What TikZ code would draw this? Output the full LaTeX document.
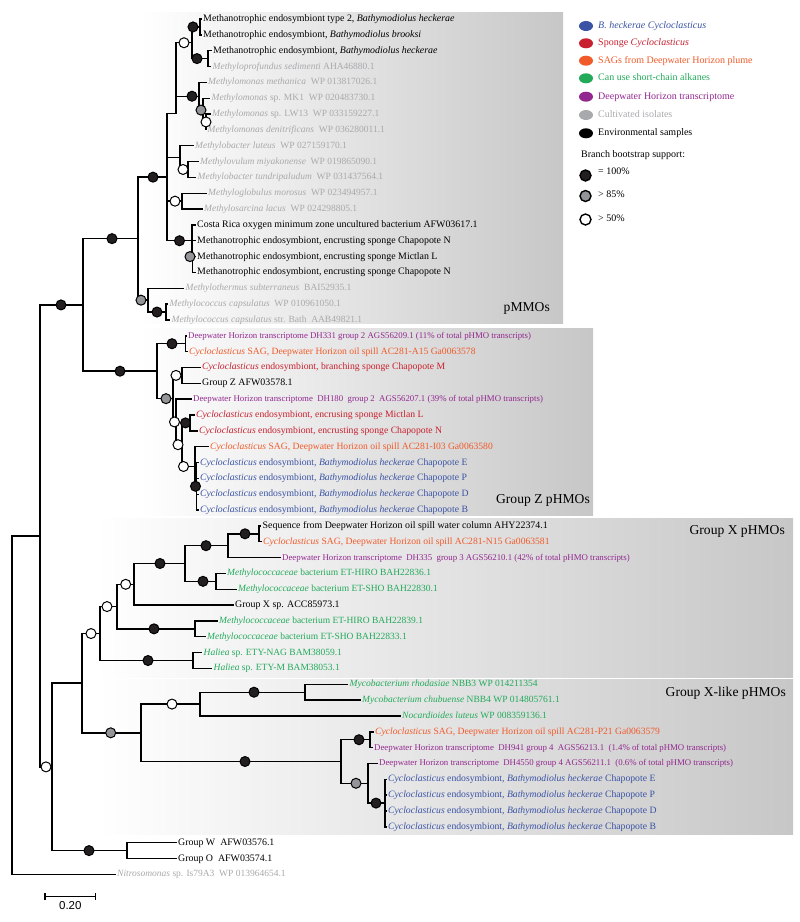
\documentclass[tikz,border=0pt]{standalone}
\usepackage{fontspec}
\setmainfont{Liberation Serif}
\newfontfamily\sbfont{Liberation Sans}
\usetikzlibrary{shapes.geometric}
\definecolor{cblue}{RGB}{58,83,164}
\definecolor{cred}{RGB}{200,32,46}
\definecolor{corange}{RGB}{241,90,41}
\definecolor{cgreen}{RGB}{34,170,90}
\definecolor{cpurple}{RGB}{146,39,143}
\definecolor{cgray}{RGB}{168,169,172}
\definecolor{cdark}{RGB}{35,31,32}
\definecolor{cmid}{RGB}{147,149,152}
\pgfmathdeclarefunction{ry}{1}{\pgfmathparse{19+15.84*(#1-1)}}
\tikzset{
 br/.style={line width=1.4pt, draw=black},
 lf/.style={anchor=west, inner xsep=1.5pt, inner ysep=0pt, text height=7pt, text depth=2pt},
 lk/.style={lf, text=black, font=\fontsize{9.9}{11}\selectfont},
 lg/.style={lf, text=cgray, font=\fontsize{9.5}{11}\selectfont},
 lp/.style={lf, text=cpurple, font=\fontsize{8.8}{10}\selectfont},
 lo/.style={lf, text=corange, font=\fontsize{9.6}{11}\selectfont},
 lr/.style={lf, text=cred, font=\fontsize{9.7}{11}\selectfont},
 lb/.style={lf, text=cblue, font=\fontsize{9.7}{11}\selectfont},
 ln/.style={lf, text=cgreen, font=\fontsize{9.5}{11}\selectfont},
 bsa/.style={circle, draw=black, line width=1pt, minimum size=10pt, inner sep=0pt, fill=cdark},
 bsb/.style={bsa, fill=cmid},
 bsc/.style={bsa, fill=white},
 grp/.style={anchor=base east, inner sep=0pt, font=\fontsize{13.6}{15}\selectfont},
 leg/.style={anchor=west, inner sep=0pt, text height=7pt, text depth=2pt, font=\fontsize{10}{12}\selectfont},
 legdot/.style={ellipse, minimum width=14pt, minimum height=10pt, inner sep=0pt},
 bigbs/.style={circle, draw=black, line width=1.4pt, minimum size=11pt, inner sep=0pt},
 boxshade/.style={left color=white, middle color=black!5, right color=black!22},
}
\begin{document}
\begin{tikzpicture}[x=1pt,y=-1pt]
\useasboundingbox (0,0) rectangle (800,922);
% background boxes
\shade[boxshade] (140,12) rectangle (563,323);
\shade[boxshade] (140,328) rectangle (593,515);
\shade[boxshade] (95,518) rectangle (793,677);
\shade[boxshade] (97,679) rectangle (793,834);
% group labels
\node[grp] (gp) at (550,311.4) {pMMOs};
\node[grp] (gz) at (590,503) {Group Z pHMOs};
\node[grp] (gx) at (785,534.7) {Group X pHMOs};
\node[grp] (gxl) at (786,696.4) {Group X-like pHMOs};
% internal nodes
\coordinate (R0) at (12,{ry(44.316)});
\coordinate (N1) at (40,{ry(33.633)});
\coordinate (A) at (83,{ry(19.051)});
\coordinate (B) at (138,{ry(14.867)});
\coordinate (C1) at (167,{ry(10.984)});
\coordinate (T) at (176,{ry(6.969)});
\coordinate (G1) at (192,{ry(2.5)});
\coordinate (F1) at (200,{ry(1.5)});
\coordinate (F2) at (208,{ry(3.5)});
\coordinate (G2) at (199,{ry(5.875)});
\coordinate (G3) at (203,{ry(6.75)});
\coordinate (G4) at (206,{ry(7.5)});
\coordinate (H1) at (180,{ry(9.75)});
\coordinate (H2) at (188,{ry(10.5)});
\coordinate (E1) at (182,{ry(12.5)});
\coordinate (D1) at (192,{ry(15)});
\coordinate (D2) at (192.5,{ry(16)});
\coordinate (C2) at (148,{ry(18.75)});
\coordinate (C3) at (166,{ry(19.5)});
\coordinate (Z) at (157,{ry(23.234)});
\coordinate (Z1) at (185.3,{ry(21.5)});
\coordinate (Z2) at (173,{ry(24.969)});
\coordinate (Z3) at (182,{ry(23.5)});
\coordinate (Z4) at (176,{ry(26.438)});
\coordinate (Z5) at (182,{ry(27.875)});
\coordinate (Z6) at (190,{ry(26.5)});
\coordinate (Z7) at (195,{ry(29.25)});
\coordinate (Z8) at (196.5,{ry(30.5)});
\coordinate (N2) at (52,{ry(48.215)});
\coordinate (N3) at (82,{ry(42.930)});
\coordinate (NX) at (100,{ry(39.797)});
\coordinate (NX1) at (117,{ry(38.094)});
\coordinate (NX2) at (134,{ry(36.688)});
\coordinate (NX3) at (185,{ry(35.375)});
\coordinate (NX4) at (228,{ry(34.25)});
\coordinate (NX5) at (259,{ry(33.5)});
\coordinate (P1) at (216,{ry(36.5)});
\coordinate (P2) at (195,{ry(39.5)});
\coordinate (HA) at (193,{ry(41.5)});
\coordinate (NXL) at (141,{ry(46.063)});
\coordinate (NXL1) at (200,{ry(44.25)});
\coordinate (MY) at (305,{ry(43.5)});
\coordinate (NXL2) at (341,{ry(47.875)});
\coordinate (NXL3) at (370,{ry(46.5)});
\coordinate (NXL4) at (368,{ry(49.25)});
\coordinate (NXL5) at (385,{ry(50.5)});
\coordinate (WO) at (127,{ry(53.5)});
% leaves
\node[lk] (L1) at (201.5,{ry(1)}) {Methanotrophic endosymbiont type 2, \textit{Bathymodiolus heckerae}};
\node[lk] (L2) at (201.5,{ry(2)}) {Methanotrophic endosymbiont, \textit{Bathymodiolus brooksi}};
\node[lk] (L3) at (211.5,{ry(3)}) {Methanotrophic endosymbiont, \textit{Bathymodiolus heckerae}};
\node[lg] (L4) at (211,{ry(4)}) {\textit{Methyloprofundus sedimenti} AHA46880.1};
\node[lg] (L5) at (206.5,{ry(5)}) {\textit{Methylomonas methanica}\ \ WP 013817026.1};
\node[lg] (L6) at (210,{ry(6)}) {\textit{Methylomonas} sp. MK1\ \ WP 020483730.1};
\node[lg] (L7) at (210.5,{ry(7)}) {\textit{Methylomonas} sp. LW13\ \ WP 033159227.1};
\node[lg] (L8) at (206,{ry(8)}) {\textit{Methylomonas denitrificans}\ \ WP 036280011.1};
\node[lg] (L9) at (193.5,{ry(9)}) {\textit{Methylobacter luteus}\ \ WP 027159170.1};
\node[lg] (L10) at (198.5,{ry(10)}) {\textit{Methylovulum miyakonense}\ \ WP 019865090.1};
\node[lg] (L11) at (196,{ry(11)}) {\textit{Methylobacter tundripaludum}\ \ WP 031437564.1};
\node[lg] (L12) at (206.5,{ry(12)}) {\textit{Methyloglobulus morosus}\ \ WP 023494957.1};
\node[lg] (L13) at (202.5,{ry(13)}) {\textit{Methylosarcina lacus}\ \ WP 024298805.1};
\node[lk] (L14) at (195.5,{ry(14)}) {Costa Rica oxygen minimum zone uncultured bacterium AFW03617.1};
\node[lk] (L15) at (195.5,{ry(15)}) {Methanotrophic endosymbiont, encrusting sponge Chapopote N};
\node[lk] (L16) at (195.5,{ry(16)}) {Methanotrophic endosymbiont, encrusting sponge Mictlan L};
\node[lk] (L17) at (195.5,{ry(17)}) {Methanotrophic endosymbiont, encrusting sponge Chapopote N};
\node[lg] (L18) at (184,{ry(18)}) {\textit{Methylothermus subterraneus}\ \ BAI52935.1};
\node[lg] (L19) at (168,{ry(19)}) {\textit{Methylococcus capsulatus}\ \ WP 010961050.1};
\node[lg] (L20) at (170,{ry(20)}) {\textit{Methylococcus capsulatus} str. Bath\ \ AAB49821.1};
\node[lp] (L21) at (186.5,{ry(21)}) {Deepwater Horizon transcriptome DH331 group 2 AGS56209.1 (11\% of total pHMO transcripts)};
\node[lo] (L22) at (187.5,{ry(22)}) {\textit{Cycloclasticus} SAG, Deepwater Horizon oil spill AC281-A15 Ga0063578};
\node[lr] (L23) at (200.5,{ry(23)}) {\textit{Cycloclasticus} endosymbiont, branching sponge Chapopote M};
\node[lk] (L24) at (200.5,{ry(24)}) {Group Z AFW03578.1};
\node[lp] (L25) at (191.5,{ry(25)}) {Deepwater Horizon transcriptome\ \ DH180\ \ group 2\ \ AGS56207.1 (39\% of total pHMO transcripts)};
\node[lr] (L26) at (194.5,{ry(26)}) {\textit{Cycloclasticus} endosymbiont, encrusing sponge Mictlan L};
\node[lr] (L27) at (197.5,{ry(27)}) {\textit{Cycloclasticus} endosymbiont, encrusting sponge Chapopote N};
\node[lo] (L28) at (208.5,{ry(28)}) {\textit{Cycloclasticus} SAG, Deepwater Horizon oil spill AC281-I03 Ga0063580};
\node[lb] (L29) at (198.5,{ry(29)}) {\textit{Cycloclasticus} endosymbiont, \textit{Bathymodiolus heckerae} Chapopote E};
\node[lb] (L30) at (198.5,{ry(30)}) {\textit{Cycloclasticus} endosymbiont, \textit{Bathymodiolus heckerae} Chapopote P};
\node[lb] (L31) at (198.5,{ry(31)}) {\textit{Cycloclasticus} endosymbiont, \textit{Bathymodiolus heckerae} Chapopote D};
\node[lb] (L32) at (198.5,{ry(32)}) {\textit{Cycloclasticus} endosymbiont, \textit{Bathymodiolus heckerae} Chapopote B};
\node[lk] (L33) at (261,{ry(33)}) {Sequence from Deepwater Horizon oil spill water column AHY22374.1};
\node[lo] (L34) at (261.5,{ry(34)}) {\textit{Cycloclasticus} SAG, Deepwater Horizon oil spill AC281-N15 Ga0063581};
\node[lp] (L35) at (280.5,{ry(35)}) {Deepwater Horizon transcriptome\ \ DH335\ \ group 3 AGS56210.1 (42\% of total pHMO transcripts)};
\node[ln] (L36) at (225.5,{ry(36)}) {\textit{Methylococcaceae} bacterium ET-HIRO BAH22836.1};
\node[ln] (L37) at (236.5,{ry(37)}) {\textit{Methylococcaceae} bacterium ET-SHO BAH22830.1};
\node[lk] (L38) at (233.5,{ry(38)}) {Group X sp. ACC85973.1};
\node[ln] (L39) at (217.5,{ry(39)}) {\textit{Methylococcaceae} bacterium ET-HIRO BAH22839.1};
\node[ln] (L40) at (205.5,{ry(40)}) {\textit{Methylococcaceae} bacterium ET-SHO BAH22833.1};
\node[ln] (L41) at (202,{ry(41)}) {\textit{Haliea} sp. ETY-NAG BAM38059.1};
\node[ln] (L42) at (212,{ry(42)}) {\textit{Haliea} sp. ETY-M BAM38053.1};
\node[ln] (L43) at (348,{ry(43)}) {\textit{Mycobacterium rhodasiae} NBB3 WP 014211354};
\node[ln] (L44) at (360.5,{ry(44)}) {\textit{Mycobacterium chubuense} NBB4 WP 014805761.1};
\node[ln] (L45) at (400.5,{ry(45)}) {\textit{Nocardioides luteus} WP 008359136.1};
\node[lo] (L46) at (373.5,{ry(46)}) {\textit{Cycloclasticus} SAG, Deepwater Horizon oil spill AC281-P21 Ga0063579};
\node[lp] (L47) at (372.5,{ry(47)}) {Deepwater Horizon transcriptome\ \ DH941 group 4\ \ AGS56213.1\ \ (1.4\% of total pHMO transcripts)};
\node[lp] (L48) at (377.5,{ry(48)}) {Deepwater Horizon transcriptome\ \ DH4550 group 4 AGS56211.1\ \ (0.6\% of total pHMO transcripts)};
\node[lb] (L49) at (386.5,{ry(49)}) {\textit{Cycloclasticus} endosymbiont, \textit{Bathymodiolus heckerae} Chapopote E};
\node[lb] (L50) at (386.5,{ry(50)}) {\textit{Cycloclasticus} endosymbiont, \textit{Bathymodiolus heckerae} Chapopote P};
\node[lb] (L51) at (386.5,{ry(51)}) {\textit{Cycloclasticus} endosymbiont, \textit{Bathymodiolus heckerae} Chapopote D};
\node[lb] (L52) at (386.5,{ry(52)}) {\textit{Cycloclasticus} endosymbiont, \textit{Bathymodiolus heckerae} Chapopote B};
\node[lk] (L53) at (176.5,{ry(53)}) {Group W\ \ AFW03576.1};
\node[lk] (L54) at (176.5,{ry(54)}) {Group O\ \ AFW03574.1};
\node[lg] (L55) at (115.5,{ry(55)}) {\textit{Nitrosomonas} sp. Is79A3\ \ WP 013964654.1};
% internal branches
\foreach \p/\c in {R0/N1, N1/A, N1/N2, A/B, A/Z, B/C1, B/C2, C1/T, C1/H1, C1/E1, C1/D1, T/G1, T/G2, G1/F1, G1/F2, G2/G3, G3/G4, H1/H2, D1/D2, C2/C3, Z/Z1, Z/Z2, Z2/Z3, Z2/Z4, Z4/Z5, Z5/Z6, Z5/Z7, Z7/Z8, N2/N3, N2/WO, N3/NX, N3/NXL, NX/NX1, NX/HA, NX1/NX2, NX1/P2, NX2/NX3, NX3/NX4, NX3/P1, NX4/NX5, NXL/NXL1, NXL/NXL2, NXL1/MY, NXL2/NXL3, NXL2/NXL4, NXL4/NXL5}
  \draw[br] (\p) |- (\c);
% leaf branches
\foreach \p/\c in {F1/1, F1/2, F2/3, F2/4, G2/5, G3/6, G4/7, G4/8, H1/9, H2/10, H2/11, E1/12, E1/13, D1/14, D2/15, D2/16, D2/17, C2/18, C3/19, C3/20, Z1/21, Z1/22, Z3/23, Z3/24, Z4/25, Z6/26, Z6/27, Z7/28, Z8/29, Z8/30, Z8/31, Z8/32, NX5/33, NX5/34, NX4/35, P1/36, P1/37, NX2/38, P2/39, P2/40, HA/41, HA/42, MY/43, MY/44, NXL1/45, NXL3/46, NXL3/47, NXL4/48, NXL5/49, NXL5/50, NXL5/51, NXL5/52, WO/53, WO/54, R0/55}
  \draw[br] (\p) |- (L\c.west);
% bootstrap circles
\node[bsa] (c1) at (61,0 |- A) {};
\node[bsc] (c2) at (46,0 |- N2) {};
\node[bsa] (c3) at (112,0 |- B) {};
\node[bsa] (c4) at (120,0 |- Z) {};
\node[bsa] (c5) at (153,0 |- C1) {};
\node[bsb] (c6) at (141,0 |- C2) {};
\node[bsc] (c7) at (184,0 |- G1) {};
\node[bsa] (c8) at (193,0 |- F1) {};
\node[bsa] (c9) at (197,0 |- F2) {};
\node[bsa] (c10) at (192,0 |- G2) {};
\node[bsb] (c11) at (201,0 |- G3) {};
\node[bsc] (c12) at (206,0 |- G4) {};
\node[bsc] (c13) at (183,0 |- H2) {};
\node[bsc] (c14) at (175,0 |- E1) {};
\node[bsa] (c15) at (179.5,0 |- D1) {};
\node[bsb] (c16) at (190,0 |- D2) {};
\node[bsa] (c17) at (157,0 |- C3) {};
\node[bsa] (c18) at (172,0 |- Z1) {};
\node[bsb] (c19) at (166,0 |- Z2) {};
\node[bsc] (c20) at (176,0 |- Z3) {};
\node[bsc] (c21) at (174.5,0 |- Z4) {};
\node[bsc] (c22) at (178,0 |- Z5) {};
\node[bsa] (c23) at (185.5,0 |- Z6) {};
\node[bsc] (c24) at (183.5,0 |- Z7) {};
\node[bsa] (c25) at (195.5,0 |- Z8) {};
\node[bsa] (c26) at (89,0 |- WO) {};
\node[bsc] (c27) at (91,0 |- NX) {};
\node[bsc] (c28) at (107,0 |- NX1) {};
\node[bsc] (c29) at (125.7,0 |- NX2) {};
\node[bsa] (c30) at (160,0 |- NX3) {};
\node[bsa] (c31) at (206,0 |- NX4) {};
\node[bsa] (c32) at (245,0 |- NX5) {};
\node[bsa] (c33) at (203,0 |- P1) {};
\node[bsa] (c34) at (154,0 |- P2) {};
\node[bsa] (c35) at (148,0 |- HA) {};
\node[bsb] (c36) at (110.7,0 |- NXL) {};
\node[bsc] (c37) at (172,0 |- NXL1) {};
\node[bsa] (c38) at (254,0 |- MY) {};
\node[bsa] (c39) at (245,0 |- NXL2) {};
\node[bsa] (c40) at (359,0 |- NXL3) {};
\node[bsb] (c41) at (356,0 |- NXL4) {};
\node[bsa] (c42) at (376,0 |- NXL5) {};
% legend
\node[legdot, fill=cblue] (k1) at (586,26) {};
\node[leg, text=cblue] (t1) at (598,26) {\textit{B. heckerae Cycloclasticus}};
\node[legdot, fill=cred] (k2) at (586,43.3) {};
\node[leg, text=cred] (t2) at (598,43.3) {Sponge \textit{Cycloclasticus}};
\node[legdot, fill=corange] (k3) at (586,60.7) {};
\node[leg, text=corange] (t3) at (598,60.7) {SAGs from Deepwater Horizon plume};
\node[legdot, fill=cgreen] (k4) at (586,78.3) {};
\node[leg, text=cgreen] (t4) at (598,78.3) {Can use short-chain alkanes};
\node[legdot, fill=cpurple] (k5) at (586,96.7) {};
\node[leg, text=cpurple] (t5) at (598,96.7) {Deepwater Horizon transcriptome};
\node[legdot, fill=cgray] (k6) at (586,115) {};
\node[leg, text=cgray] (t6) at (598,115) {Cultivated isolates};
\node[legdot, fill=black] (k7) at (586,133.3) {};
\node[leg, text=black] (t7) at (598,133.3) {Environmental samples};
\node[leg] (bbs) at (581,155) {Branch bootstrap support:};
\node[bigbs, fill=cdark] (bk1) at (585.5,175.5) {};
\node[leg] (bt1) at (598,171.5) {= 100\%};
\node[bigbs, fill=cmid] (bk2) at (585.5,196) {};
\node[leg] (bt2) at (598,195) {> 85\%};
\node[bigbs, fill=white] (bk3) at (585.5,219.5) {};
\node[leg] (bt3) at (598,218.5) {> 50\%};
% scale bar
\coordinate (sb1) at (45,896.7);
\coordinate (sb2) at (95.7,896.7);
\draw[br] (sb1) -- (sb2);
\draw[br] ([yshift=3.3pt]sb1) -- ([yshift=-3.3pt]sb1);
\draw[br] ([yshift=3.3pt]sb2) -- ([yshift=-3.3pt]sb2);
\node[font=\sbfont\fontsize{11.5}{13}\selectfont, inner sep=0pt] (sbl) at (70.3,906) {0.20};
\end{tikzpicture}
\end{document}
